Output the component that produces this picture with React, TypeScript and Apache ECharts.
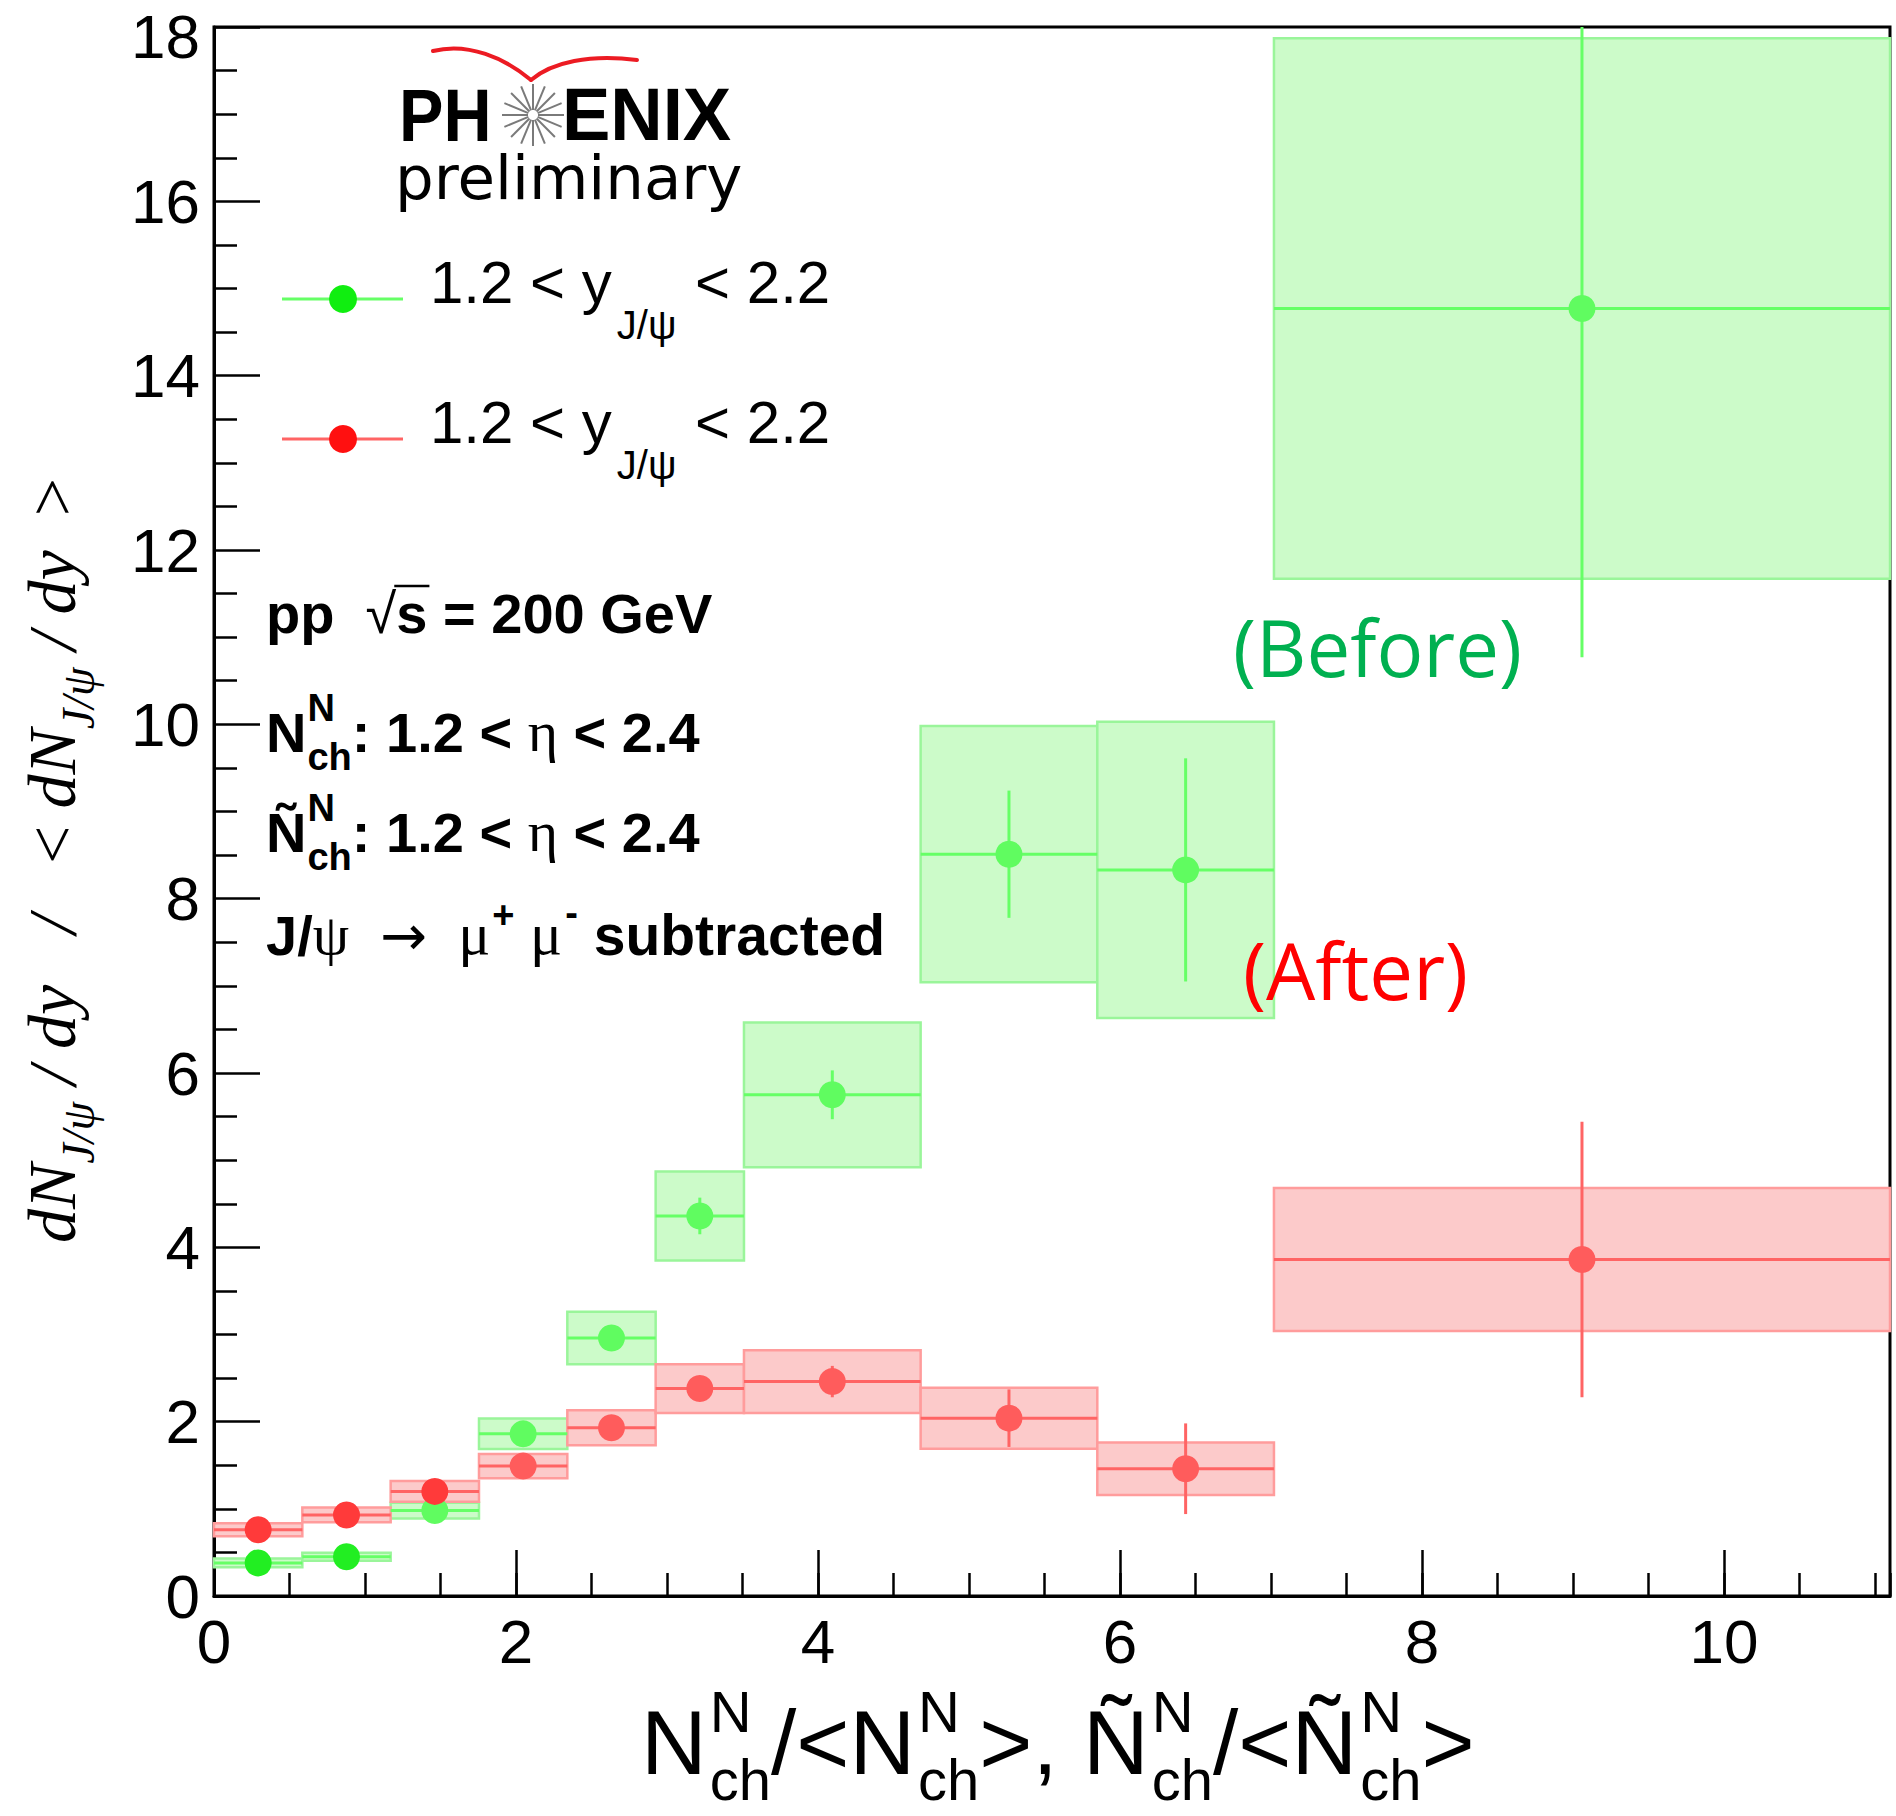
import React, { useEffect, useRef } from "react";
import * as echarts from "echarts";

// ---------------- data ----------------
const binLow = [0, 0.585, 1.17, 1.755, 2.34, 2.925, 3.51, 4.68, 5.85, 7.02];
const binHigh = [0.585, 1.17, 1.755, 2.34, 2.925, 3.51, 4.68, 5.85, 7.02, 11.1];

const beforeY = [0.38, 0.45, 0.98, 1.86, 2.96, 4.36, 5.75, 8.51, 8.33, 14.77];
const beforeStat = [0.03, 0.03, 0.05, 0.08, 0.12, 0.21, 0.28, 0.73, 1.28, 4.0];
const beforeSys = [0.05, 0.045, 0.09, 0.175, 0.3, 0.51, 0.83, 1.47, 1.7, 3.1];

const afterY = [0.76, 0.93, 1.2, 1.49, 1.93, 2.38, 2.46, 2.04, 1.46, 3.86];
const afterStat = [0.04, 0.04, 0.06, 0.07, 0.08, 0.05, 0.18, 0.33, 0.52, 1.58];
const afterSys = [0.075, 0.085, 0.12, 0.14, 0.2, 0.28, 0.36, 0.35, 0.3, 0.82];

const xTickLabels = ["0", "2", "4", "6", "8", "10"];
const yTickLabels = ["0", "2", "4", "6", "8", "10", "12", "14", "16", "18"];

// ---------------- styling ----------------
const SANS = "'Liberation Sans', Arial, sans-serif";
const SERIF = "'Liberation Serif', 'Times New Roman', serif";
const DEJAVU = "'DejaVu Sans', sans-serif";
const OPEN = "'Open Sans', sans-serif";

const G_FILL = "#ccfbc9";
const G_EDGE = "#9af59a";
const G_LINE = "#66ff66";
const G_MARK = "#60fc60";
const G_MARK_LOW = "#22ee22";
const R_FILL = "#fccaca";
const R_EDGE = "#ff9c9c";
const R_LINE = "#ff6464";
const R_MARK = "#ff5c5c";
const R_MARK_LOW = "#ff3a3a";

let measureCtx: CanvasRenderingContext2D | null = null;
function textWidth(t: string, font: string): number {
  if (!measureCtx) measureCtx = document.createElement("canvas").getContext("2d");
  measureCtx!.font = font;
  return measureCtx!.measureText(t).width;
}

type Piece = {
  t: string;
  size: number;
  fam?: string;
  bold?: boolean;
  italic?: boolean;
  dy?: number;
  gap?: number;
  keep?: boolean;
  color?: string;
  id?: string;
};

function buildMath(pieces: Piece[], defFam: string, color: string) {
  let x = 0;
  const children: any[] = [];
  const marks: Record<string, [number, number]> = {};
  for (const p of pieces) {
    x += p.gap || 0;
    const font = `${p.italic ? "italic " : ""}${p.bold ? "bold " : ""}${p.size}px ${p.fam || defFam}`;
    const w = textWidth(p.t, font);
    children.push({
      type: "text",
      x,
      y: (p.dy || 0) - 0.35 * p.size,
      silent: true,
      style: {
        text: p.t,
        font,
        fill: p.color || color,
        textAlign: "left",
        textVerticalAlign: "middle",
        verticalAlign: "middle",
      },
    });
    if (p.id) marks[p.id] = [x, x + w];
    if (!p.keep) x += w;
  }
  return { children, width: x, marks };
}

function mathGroup(pieces: Piece[], defFam: string, color: string, x: number, y: number, extra: any = {}) {
  const m = buildMath(pieces, defFam, color);
  return { type: "group", x, y, children: m.children, ...extra };
}

function setZ(el: any, z: number) {
  el.z = z;
  if (el.children) el.children.forEach((c: any) => setZ(c, z));
  return el;
}

function boxRender(fill: string, edge: string) {
  return (params: any, api: any) => {
    const lo = api.value(0), hi = api.value(1), y = api.value(2), sys = api.value(3);
    const p1 = api.coord([lo, y + sys]);
    const p2 = api.coord([hi, y - sys]);
    const cs = params.coordSys;
    const rect = echarts.graphic.clipRectByRect(
      { x: p1[0], y: p1[1], width: p2[0] - p1[0], height: p2[1] - p1[1] },
      { x: cs.x, y: cs.y, width: cs.width, height: cs.height }
    );
    if (!rect) return null;
    return { type: "rect", shape: rect, style: { fill, stroke: edge, lineWidth: 2.5 } };
  };
}

function errRender(color: string) {
  return (params: any, api: any) => {
    const lo = api.value(0), hi = api.value(1), y = api.value(2), st = api.value(3);
    const cs = params.coordSys;
    const r = { x: cs.x, y: cs.y, width: cs.width, height: cs.height };
    const h = echarts.graphic.clipPointsByRect([api.coord([lo, y]), api.coord([hi, y])], r);
    const c = (lo + hi) / 2;
    const v = echarts.graphic.clipPointsByRect([api.coord([c, y - st]), api.coord([c, y + st])], r);
    return {
      type: "group",
      children: [
        { type: "line", shape: { x1: h[0][0], y1: h[0][1], x2: h[1][0], y2: h[1][1] }, style: { stroke: color, lineWidth: 3 } },
        { type: "line", shape: { x1: v[0][0], y1: v[0][1], x2: v[1][0], y2: v[1][1] }, style: { stroke: color, lineWidth: 3 } },
      ],
    };
  };
}

function buildOption() {
  const boxesB = binLow.map((lo, i) => [lo, binHigh[i], beforeY[i], beforeSys[i]]);
  const boxesA = binLow.map((lo, i) => [lo, binHigh[i], afterY[i], afterSys[i]]);
  const errB = binLow.map((lo, i) => [lo, binHigh[i], beforeY[i], beforeStat[i]]);
  const errA = binLow.map((lo, i) => [lo, binHigh[i], afterY[i], afterStat[i]]);
  const ptsB = binLow.map((lo, i) => [(lo + binHigh[i]) / 2, beforeY[i]]);
  const ptsA = binLow.map((lo, i) => [(lo + binHigh[i]) / 2, afterY[i]]);

  const axisLine = { color: "#000", width: 3 };
  const tickLine = { color: "#000", width: 2.5 };

  const graphics: any[] = [];

  // PHENIX logo
  graphics.push({
    type: "bezierCurve",
    shape: { x1: 433, y1: 51, cpx1: 468, cpy1: 42, cpx2: 505, cpy2: 58, x2: 531, y2: 80 },
    style: { stroke: "#ec1b23", lineWidth: 4, fill: null, lineCap: "round" },
  });
  graphics.push({
    type: "bezierCurve",
    shape: { x1: 531, y1: 80, cpx1: 552, cpy1: 62, cpx2: 590, cpy2: 54, x2: 637, y2: 60 },
    style: { stroke: "#ec1b23", lineWidth: 4, fill: null, lineCap: "round" },
  });
  graphics.push(mathGroup([{ t: "PH", size: 74, bold: true }], SANS, "#000", 399, 141, { scaleX: 0.9 }));
  graphics.push(mathGroup([{ t: "ENIX", size: 74, bold: true }], SANS, "#000", 562, 141, { scaleX: 0.98 }));
  const cx = 533, cy = 115;
  for (let k = 0; k < 16; k++) {
    const a = (k * Math.PI) / 8;
    graphics.push({
      type: "line", silent: true,
      shape: { x1: cx + 5 * Math.cos(a), y1: cy + 5 * Math.sin(a), x2: cx + 31 * Math.cos(a), y2: cy + 31 * Math.sin(a) },
      style: { stroke: "#7a7a7a", lineWidth: 2 },
    });
  }
  graphics.push(mathGroup([{ t: "preliminary", size: 61 }], DEJAVU, "#000", 395, 199));

  // Legend
  const legendRows = [
    { y: 299, line: G_LINE, mark: "#10ee10" },
    { y: 439, line: R_LINE, mark: "#ff1010" },
  ];
  legendRows.forEach((row) => {
    graphics.push({ type: "line", shape: { x1: 282, y1: row.y, x2: 403, y2: row.y }, style: { stroke: row.line, lineWidth: 3 } });
    graphics.push({ type: "circle", shape: { cx: 343, cy: row.y, r: 14 }, style: { fill: row.mark } });
    graphics.push(
      mathGroup(
        [
          { t: "1.2", size: 60 },
          { t: " < ", size: 60 },
          { t: "y", size: 60 },
          { t: "J/ψ", size: 40, dy: 36, gap: 5 },
          { t: " < 2.2", size: 60, gap: 2 },
        ],
        SANS, "#000", 430, row.y + 4
      )
    );
  });

  // Info block
  const L1 = buildMath(
    [
      { t: "pp", size: 56, bold: true },
      { t: "  ", size: 56, bold: true },
      { t: "√", size: 56, id: "rt" },
      { t: "s", size: 56, bold: true, id: "s" },
      { t: " = 200 GeV", size: 56, bold: true },
    ],
    SANS, "#000"
  );
  graphics.push({ type: "group", x: 266, y: 633, children: L1.children });
  graphics.push({
    type: "line",
    shape: { x1: 266 + L1.marks.rt[1] - 2, y1: 633 - 47, x2: 266 + L1.marks.s[1] + 2, y2: 633 - 47 },
    style: { stroke: "#000", lineWidth: 2.5 },
  });
  ["N", "Ñ"].forEach((sym, j) => {
    graphics.push(
      mathGroup(
        [
          { t: sym, size: 56, bold: true },
          { t: "N", size: 38, bold: true, dy: -31, keep: true, gap: 1 },
          { t: "ch", size: 38, bold: true, dy: 18 },
          { t: ": 1.2 < ", size: 56, bold: true },
          { t: "η", size: 58, fam: SERIF },
          { t: " < 2.4", size: 56, bold: true },
        ],
        SANS, "#000", 266, 752 + j * 100
      )
    );
  });
  graphics.push(
    mathGroup(
      [
        { t: "J/", size: 56, bold: true },
        { t: "ψ", size: 58, fam: SERIF },
        { t: "  ", size: 56 },
        { t: "→", size: 56, fam: DEJAVU },
        { t: "  ", size: 56 },
        { t: "μ", size: 60, fam: SERIF },
        { t: "+", size: 38, bold: true, dy: -27, gap: 2 },
        { t: " ", size: 56 },
        { t: "μ", size: 60, fam: SERIF },
        { t: "-", size: 38, bold: true, dy: -29, gap: 3 },
        { t: " subtracted", size: 57, bold: true },
      ],
      SANS, "#000", 266, 955
    )
  );

  // (Before) / (After)
  graphics.push({
    type: "text", x: 1233, y: 647, silent: true,
    style: { text: "(Before)", font: `78px ${OPEN}`, fill: "#00b050", textAlign: "left", textVerticalAlign: "middle" },
  });
  graphics.push({
    type: "text", x: 1243, y: 970, silent: true,
    style: { text: "(After)", font: `78px ${OPEN}`, fill: "#ff0000", textAlign: "left", textVerticalAlign: "middle" },
  });

  // X axis title
  const supN = (gap = 3): Piece => ({ t: "N", size: 58, dy: -42, keep: true, gap });
  const subCh: Piece = { t: "ch", size: 58, dy: 26 };
  graphics.push(
    mathGroup(
      [
        { t: "N", size: 91 }, supN(), subCh,
        { t: "/", size: 91 }, { t: "<", size: 91 },
        { t: "N", size: 91 }, supN(), subCh,
        { t: ">", size: 91 }, { t: ", ", size: 91 },
        { t: "Ñ", size: 91 }, supN(), subCh,
        { t: "/", size: 91 }, { t: "<", size: 91 },
        { t: "Ñ", size: 91 }, supN(), subCh,
        { t: ">", size: 91 },
      ],
      SANS, "#000", 641, 1774
    )
  );

  // Y axis title (rotated)
  graphics.push(
    mathGroup(
      [
        { t: "dN", size: 68, italic: true },
        { t: "J/ψ", size: 46, italic: true, dy: 19 },
        { t: " / dy", size: 68, italic: true },
        { t: "   /   ", size: 68, italic: true },
        { t: "<", size: 68 },
        { t: " dN", size: 68, italic: true },
        { t: "J/ψ", size: 46, italic: true, dy: 19 },
        { t: " / dy", size: 68, italic: true },
        { t: "  >", size: 68 },
      ],
      SERIF, "#000", 76, 1243, { rotation: Math.PI / 2 }
    )
  );

  graphics.forEach((g) => setZ(g, 50));

  return {
    animation: false,
    backgroundColor: "#ffffff",
    grid: { left: 214, right: 6, top: 27, bottom: 220, show: true, borderColor: "#000", borderWidth: 3, backgroundColor: "transparent" },
    xAxis: [
      {
        type: "value", min: 0, max: 11.1, interval: 2, position: "bottom",
        axisLine: { show: true, onZero: false, lineStyle: axisLine },
        axisTick: { show: true, inside: true, length: 46, lineStyle: tickLine },
        splitLine: { show: false },
        axisLabel: {
          show: true, showMaxLabel: false, fontSize: 62, fontFamily: SANS, color: "#000", margin: 14,
          formatter: (v: number) => (xTickLabels.includes(String(v)) ? String(v) : ""),
        },
      },
      {
        type: "value", min: 0, max: 11.1, interval: 0.5, position: "bottom",
        axisLine: { show: false },
        axisTick: { show: true, inside: true, length: 23, lineStyle: tickLine },
        splitLine: { show: false },
        axisLabel: { show: false },
      },
    ],
    yAxis: {
      type: "value", min: 0, max: 18, interval: 2,
      axisLine: { show: true, onZero: false, lineStyle: axisLine },
      axisTick: { show: true, inside: true, length: 46, lineStyle: tickLine },
      minorTick: { show: true, splitNumber: 4, length: 23, lineStyle: tickLine },
      splitLine: { show: false },
      minorSplitLine: { show: false },
      axisLabel: {
        fontSize: 62, fontFamily: SANS, color: "#000", margin: 14,
        formatter: (v: number) => {
          const s = String(v);
          if (!yTickLabels.includes(s)) return "";
          return v === 18 ? `{top|${s}}` : s;
        },
        rich: {
          top: { fontSize: 62, fontFamily: SANS, color: "#000", padding: [18, 0, 0, 0] },
        },
      },
    },
    series: [
      { type: "custom", name: "before-sys", xAxisIndex: 0, data: boxesB, renderItem: boxRender(G_FILL, G_EDGE), silent: true },
      { type: "custom", name: "after-sys", xAxisIndex: 0, data: boxesA, renderItem: boxRender(R_FILL, R_EDGE), silent: true },
      { type: "custom", name: "before-stat", xAxisIndex: 0, data: errB, renderItem: errRender(G_LINE), silent: true },
      { type: "custom", name: "after-stat", xAxisIndex: 0, data: errA, renderItem: errRender(R_LINE), silent: true },
      {
        type: "scatter", name: "1.2 < y < 2.2 (before)", xAxisIndex: 0, data: ptsB, symbol: "circle", symbolSize: 27, silent: true,
        itemStyle: { color: (p: any) => (p.dataIndex < 2 ? G_MARK_LOW : G_MARK), opacity: 1 },
      },
      {
        type: "scatter", name: "1.2 < y < 2.2 (after)", xAxisIndex: 0, data: ptsA, symbol: "circle", symbolSize: 27, silent: true,
        itemStyle: { color: (p: any) => (p.dataIndex < 3 ? R_MARK_LOW : R_MARK), opacity: 1 },
      },
    ],
    graphic: graphics,
  };
}

export default function App() {
  const ref = useRef<HTMLDivElement>(null);
  useEffect(() => {
    if (!ref.current) return;
    const chart = echarts.init(ref.current, undefined, { renderer: "svg" });
    chart.setOption(buildOption() as any);
    return () => chart.dispose();
  }, []);
  return (
    <div
      ref={ref}
      style={{ position: "absolute", left: 0, top: 0, width: 1896, height: 1816, background: "#fff" }}
    />
  );
}
